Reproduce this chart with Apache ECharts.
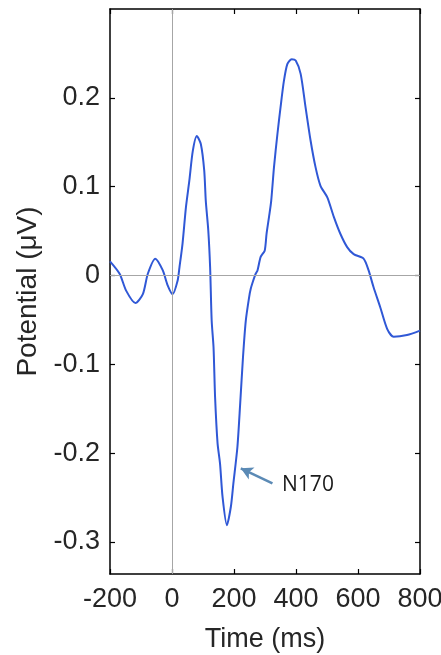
<!DOCTYPE html>
<html>
<head>
<meta charset="utf-8">
<script src="https://cdn.jsdelivr.net/npm/echarts@6/dist/echarts.min.js"></script>
<style>
html,body{margin:0;padding:0;background:#fff;}
#chart{width:441px;height:655px;}
</style>
</head>
<body>
<div id="chart"></div>
<script>
// ---- data ----
const timeMs = [-200,-169,-148,-118,-94,-78,-54,-30,-14,2,18,24,34,45,56,67,80,93,104,109,117,123,128,134,139,147,155,163,177,190,198,211,220,229,238,249,254,259,270,276,286,299,305,313,320,329,340,350,361,372,386,399,415,431,447,463,479,501,522,543,565,586,618,634,650,672,694,715,758,800];
const potential = [0.016,0.002,-0.017,-0.031,-0.021,0.002,0.019,0.006,-0.011,-0.021,-0.006,0.009,0.036,0.077,0.107,0.140,0.157,0.148,0.118,0.084,0.051,0.009,-0.051,-0.081,-0.137,-0.189,-0.212,-0.249,-0.281,-0.260,-0.234,-0.193,-0.144,-0.092,-0.051,-0.024,-0.015,-0.009,0.002,0.006,0.021,0.028,0.047,0.066,0.084,0.122,0.159,0.189,0.219,0.238,0.2435,0.242,0.227,0.189,0.152,0.122,0.101,0.088,0.066,0.047,0.032,0.024,0.019,0.006,-0.013,-0.036,-0.060,-0.069,-0.067,-0.062];
const xTicks = [-200,0,200,400,600,800];
const yTicks = [-0.3,-0.2,-0.1,0,0.1,0.2];
const arrowTail = [324,-0.234];
const arrowHead = [222,-0.217];
const annotText = 'N170';
const annotPos = [355,-0.236];

const tickFont = "'Liberation Sans',Arial,sans-serif";
const textColor = '#262626';
const chart = echarts.init(document.getElementById('chart'), null, {renderer:'canvas'});
const xMin = -200, xMax = 800, yMin = -0.336, yMax = 0.300;
const axisLine = {show:true, onZero:false, lineStyle:{color:'#000', width:1.5}};
const tick = {show:true, inside:true, length:5, lineStyle:{color:'#000', width:1.2}};

chart.setOption({
  animation:false,
  backgroundColor:'#fff',
  grid:{left:110, right:21, top:9, bottom:81, containLabel:false, outerBoundsMode:'none'},
  xAxis:[{
    type:'value', min:xMin, max:xMax, interval:200, position:'bottom',
    axisLine:axisLine, axisTick:Object.assign({}, tick, {customValues:xTicks}), splitLine:{show:false},
    axisLabel:{color:textColor, fontFamily:tickFont, fontSize:27, margin:12, customValues:xTicks, hideOverlap:false},
    name:'Time (ms)', nameLocation:'middle', nameGap:52,
    nameTextStyle:{color:textColor, fontFamily:tickFont, fontSize:27}
  },{
    type:'value', min:xMin, max:xMax, interval:200, position:'top',
    axisLine:axisLine, axisTick:Object.assign({}, tick, {customValues:xTicks}), axisLabel:{show:false}, splitLine:{show:false}
  }],
  yAxis:[{
    type:'value', min:yMin, max:yMax, position:'left',
    axisLine:axisLine,
    axisTick:Object.assign({}, tick, {customValues:yTicks}),
    splitLine:{show:false},
    axisLabel:{color:textColor, fontFamily:tickFont, fontSize:27, margin:10, customValues:yTicks,
      formatter:v=>String(Math.round(v*10)/10)},
    name:'Potential (\u03bcV)', nameLocation:'middle', nameGap:63, nameRotate:90,
    nameTextStyle:{color:textColor, fontFamily:tickFont, fontSize:28}
  },{
    type:'value', min:yMin, max:yMax, position:'right',
    axisLine:axisLine,
    axisTick:Object.assign({}, tick, {customValues:yTicks}),
    axisLabel:{show:false}, splitLine:{show:false}
  }],
  series:[{
    type:'line',
    data:timeMs.map((t,i)=>[t,potential[i]]),
    showSymbol:false, smooth:0.25,
    lineStyle:{color:'#3058d6', width:2},
    itemStyle:{color:'#3058d6'},
    z:3,
    markLine:{
      silent:true, animation:false,
      symbol:['none','none'],
      label:{show:false},
      lineStyle:{color:'#a6a6a6', width:1, type:'solid'},
      data:[{xAxis:0},{yAxis:0}]
    },
    markPoint:{
      silent:true, animation:false,
      data:[{coord:annotPos, symbol:'circle', symbolSize:0,
        label:{show:true, formatter:annotText, position:'right', distance:0,
          color:'#1a1a1a', fontSize:21, fontFamily:"'Open Sans','Noto Sans',sans-serif"}}]
    }
  },{
    type:'line', data:[], silent:true,
    markLine:{
      silent:true, animation:false,
      symbol:['none','arrow'], symbolSize:[10,12],
      label:{show:false},
      lineStyle:{color:'#5b8ab5', width:2.5, type:'solid'},
      data:[[{coord:arrowTail},{coord:arrowHead}]]
    }
  }]
});
</script>
</body>
</html>
